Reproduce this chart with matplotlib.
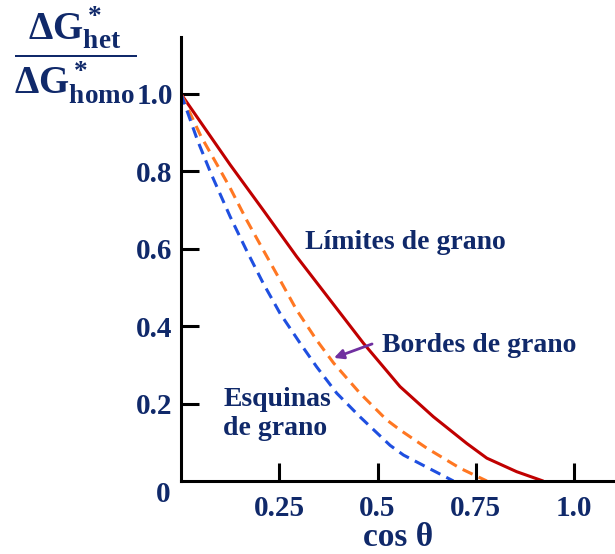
import matplotlib
matplotlib.use("Agg")
import matplotlib.pyplot as plt

# values
cos_limites = [0.0, 0.125, 0.209, 0.294, 0.379, 0.464, 0.557, 0.642,
               0.727, 0.778, 0.854, 0.921]
f_limites = [1.0, 0.817, 0.700, 0.580, 0.468, 0.356, 0.244, 0.166,
             0.097, 0.059, 0.024, 0.0]

cos_bordes = [0.0, 0.051, 0.093, 0.125, 0.167, 0.209, 0.252, 0.294,
              0.345, 0.388, 0.455, 0.523, 0.557, 0.625, 0.710, 0.778]
f_bordes = [1.0, 0.890, 0.815, 0.757, 0.674, 0.597, 0.519, 0.442,
            0.364, 0.305, 0.227, 0.158, 0.132, 0.085, 0.033, 0.0]

cos_esquinas = [0.0, 0.042, 0.076, 0.125, 0.167, 0.209, 0.252, 0.303,
                0.345, 0.396, 0.455, 0.532, 0.566, 0.634, 0.693]
f_esquinas = [1.0, 0.880, 0.795, 0.683, 0.595, 0.511, 0.433, 0.356,
              0.295, 0.227, 0.166, 0.092, 0.067, 0.031, 0.0]

xticks = [0.25, 0.5, 0.75, 1.0]
xtick_labels = ["0.25", "0.5", "0.75", "1.0"]
yticks = [0.2, 0.4, 0.6, 0.8, 1.0]
ytick_labels = ["0.2", "0.4", "0.6", "0.8", "1.0"]

navy = "#10296A"
serif = "Liberation Serif"

plt.rcParams["font.family"] = serif
plt.rcParams["font.weight"] = "bold"
plt.rcParams["axes.labelweight"] = "bold"
plt.rcParams["mathtext.fontset"] = "custom"
plt.rcParams["mathtext.rm"] = "Liberation Serif:bold"
plt.rcParams["mathtext.it"] = "Liberation Serif:bold"
plt.rcParams["mathtext.bf"] = "Liberation Serif:bold"
plt.rcParams["mathtext.default"] = "rm"

fig = plt.figure(figsize=(6.15, 5.54), dpi=100)
ax = fig.add_axes([181 / 615, 73 / 554, 434 / 615, 444 / 554])

ax.plot(cos_limites, f_limites, color="#C00000", lw=2.2, solid_capstyle="round")
ax.plot(cos_bordes, f_bordes, color="#FF7722", lw=2.2, dashes=(3.6, 2.2))
ax.plot(cos_esquinas, f_esquinas, color="#1F4FE0", lw=2.2, dashes=(3.6, 2.2))

ax.set_xlim(0, 1.104)
ax.set_ylim(0, 1.147)

for side in ["top", "right"]:
    ax.spines[side].set_visible(False)
for side in ["left", "bottom"]:
    ax.spines[side].set_linewidth(2.2)

ax.set_xticks(xticks)
ax.set_xticklabels(xtick_labels)
ax.set_yticks(yticks)
ax.set_yticklabels(ytick_labels)
ax.tick_params(axis="both", direction="in", length=13, width=2.2,
               labelsize=21, labelcolor=navy)
ax.tick_params(axis="x", pad=10)
ax.tick_params(axis="y", pad=6)

ax.text(-0.046, -0.036, "0", fontsize=21, color=navy, ha="center", va="center",
        clip_on=False)

ax.set_xlabel("cos θ", fontsize=24, color=navy, fontweight="bold", labelpad=0)

fig.text(75 / 615, 1 - 55 / 554,
         r"$\dfrac{\Delta G^*_{het}}{\Delta G^*_{homo}}$",
         fontsize=28, color=navy, ha="center", va="center")

ax.text(0.316, 0.615, "Límites de grano", fontsize=20, color=navy,
        ha="left", va="center")
ax.text(0.511, 0.349, "Bordes de grano", fontsize=20, color=navy,
        ha="left", va="center")
ax.text(0.107, 0.173, "Esquinas\nde grano", fontsize=20, color=navy,
        ha="left", va="center", linespacing=1.2)

ax.annotate("", xy=(0.389, 0.318), xytext=(0.486, 0.354),
            arrowprops=dict(arrowstyle="-|>", color="#7030A0", lw=2,
                            mutation_scale=14, shrinkA=0, shrinkB=0))

fig.savefig("out.png", dpi=100)
